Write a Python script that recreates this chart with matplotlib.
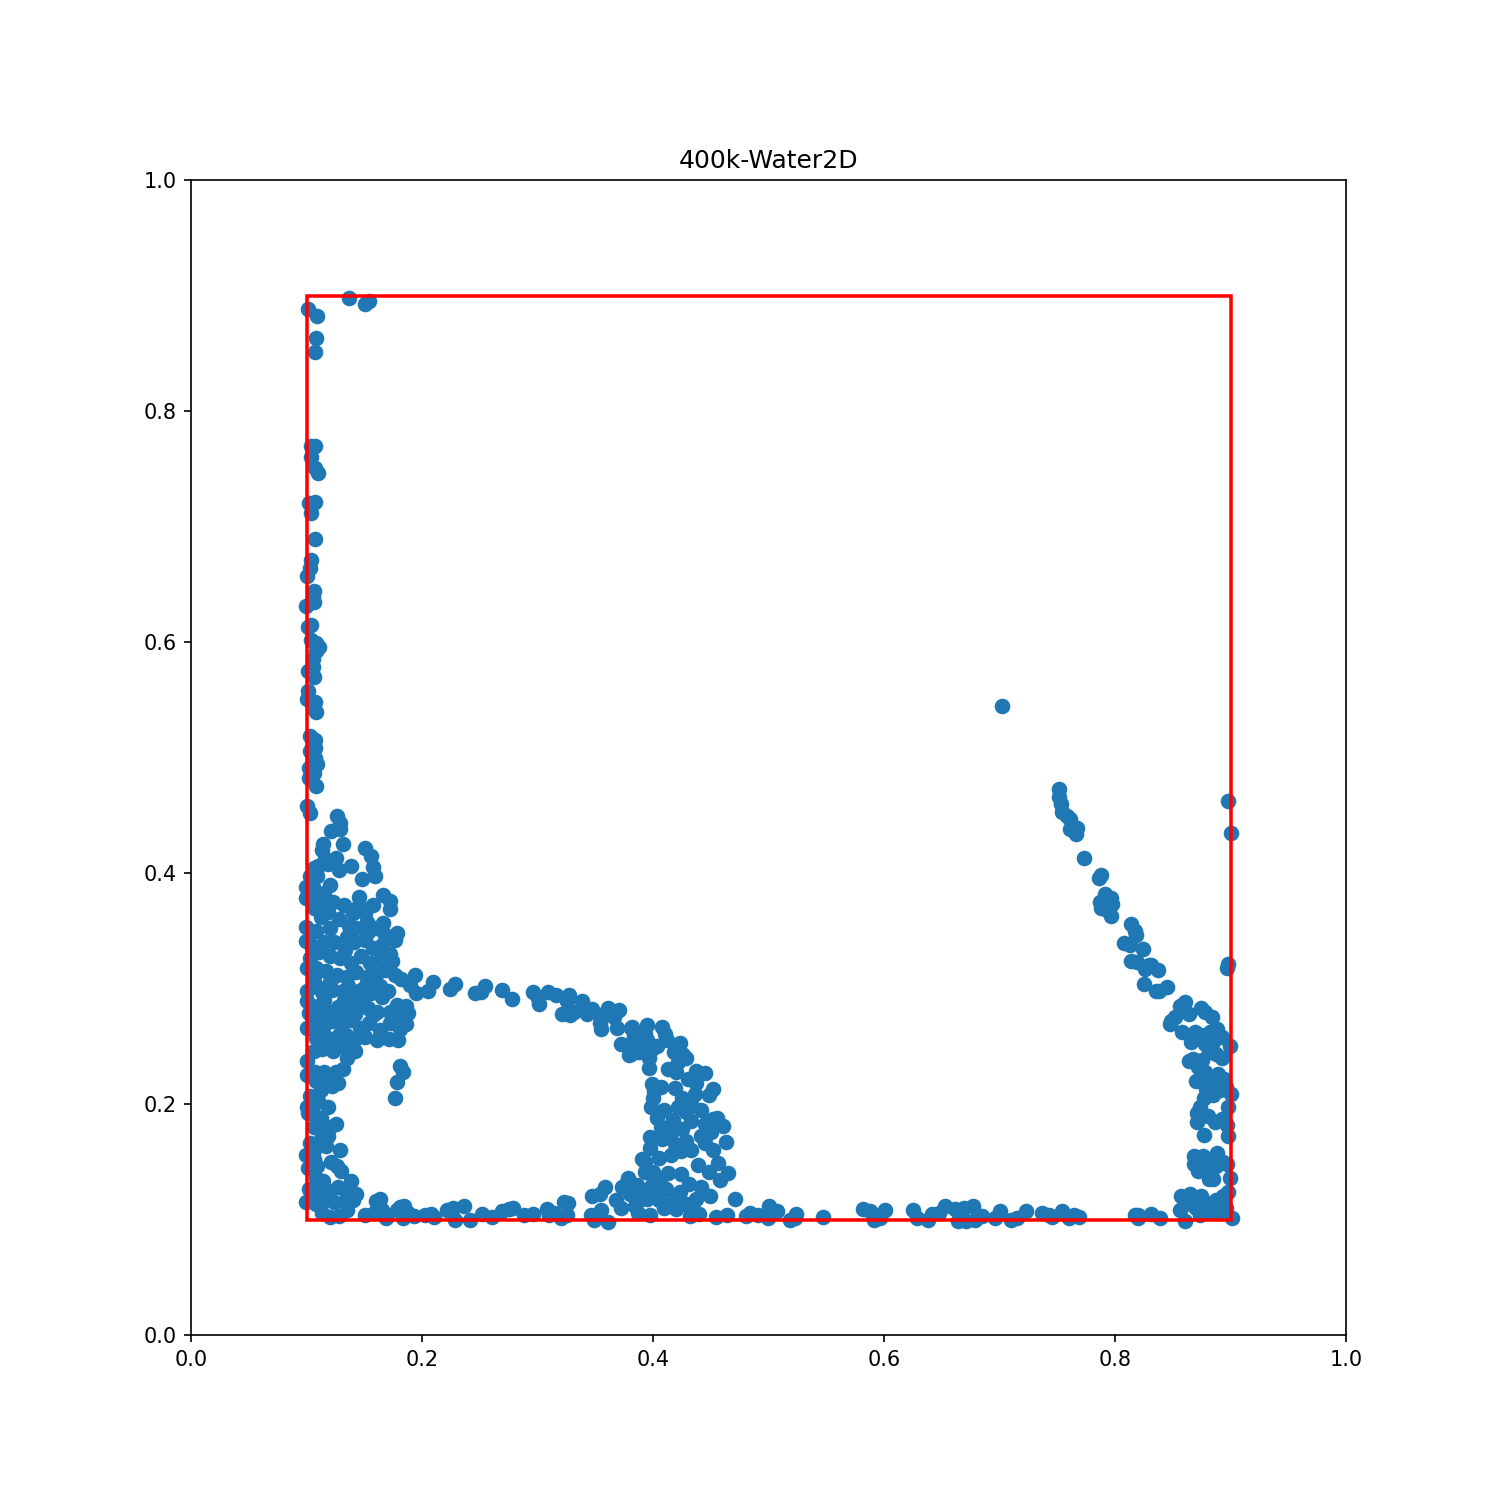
import matplotlib
matplotlib.use("Agg")
import matplotlib.pyplot as plt
from matplotlib.patches import Rectangle

# particle positions, grouped by region

top_left = [(0.137, 0.898), (0.150, 0.893), (0.154, 0.895), (0.101, 0.888), (0.109, 0.882), (0.108, 0.863), (0.107, 0.851),
            (0.104, 0.770), (0.107, 0.770), (0.104, 0.760), (0.107, 0.751), (0.110, 0.746), (0.102, 0.720), (0.107, 0.721),
            (0.104, 0.712), (0.107, 0.689), (0.104, 0.671), (0.103, 0.664), (0.100, 0.657), (0.106, 0.644), (0.105, 0.640),
            (0.106, 0.635), (0.099, 0.631), (0.101, 0.613), (0.104, 0.615), (0.104, 0.602), (0.108, 0.599), (0.111, 0.596),
            (0.108, 0.592), (0.105, 0.585), (0.105, 0.578), (0.101, 0.575), (0.106, 0.570), (0.101, 0.558), (0.100, 0.551),
            (0.107, 0.548), (0.105, 0.543), (0.108, 0.539), (0.103, 0.519), (0.107, 0.515), (0.107, 0.508), (0.103, 0.506),
            (0.107, 0.500), (0.109, 0.494), (0.102, 0.491), (0.106, 0.487), (0.102, 0.482), (0.108, 0.475), (0.100, 0.458),
            (0.103, 0.452)]

left_cluster = [(0.126, 0.449), (0.129, 0.443), (0.129, 0.438), (0.121, 0.436), (0.131, 0.425), (0.114, 0.425), (0.113, 0.420),
                (0.150, 0.422), (0.156, 0.415), (0.157, 0.405), (0.159, 0.397), (0.148, 0.395), (0.138, 0.406), (0.128, 0.403),
                (0.125, 0.413), (0.118, 0.408), (0.110, 0.406), (0.106, 0.404), (0.103, 0.397), (0.120, 0.390), (0.099, 0.388),
                (0.099, 0.378), (0.109, 0.379), (0.166, 0.381), (0.172, 0.376), (0.172, 0.369), (0.145, 0.379), (0.123, 0.375),
                (0.132, 0.372), (0.157, 0.372), (0.150, 0.365), (0.145, 0.372), (0.099, 0.353), (0.099, 0.341), (0.178, 0.348),
                (0.176, 0.342), (0.166, 0.357), (0.160, 0.352), (0.152, 0.358), (0.143, 0.352), (0.135, 0.345), (0.128, 0.360),
                (0.120, 0.352), (0.112, 0.362), (0.106, 0.370), (0.108, 0.350), (0.115, 0.340), (0.124, 0.340), (0.133, 0.333),
                (0.141, 0.340), (0.150, 0.342), (0.157, 0.335), (0.165, 0.338), (0.172, 0.330), (0.163, 0.325), (0.155, 0.322),
                (0.147, 0.328), (0.138, 0.322), (0.129, 0.326), (0.120, 0.328), (0.111, 0.332), (0.104, 0.338), (0.103, 0.326),
                (0.100, 0.318), (0.108, 0.318), (0.117, 0.315), (0.126, 0.312), (0.135, 0.310), (0.143, 0.314), (0.152, 0.310),
                (0.160, 0.312), (0.168, 0.316), (0.176, 0.312), (0.182, 0.308), (0.189, 0.303), (0.100, 0.298), (0.107, 0.304),
                (0.113, 0.297), (0.122, 0.299), (0.131, 0.298), (0.139, 0.295), (0.147, 0.299), (0.156, 0.296), (0.165, 0.293),
                (0.100, 0.289), (0.102, 0.279), (0.110, 0.285), (0.118, 0.280), (0.127, 0.284), (0.136, 0.282), (0.144, 0.286),
                (0.153, 0.283), (0.161, 0.280), (0.178, 0.286), (0.186, 0.285), (0.188, 0.279), (0.180, 0.276), (0.172, 0.280),
                (0.100, 0.266), (0.106, 0.270), (0.114, 0.267), (0.122, 0.272), (0.130, 0.268), (0.138, 0.273), (0.146, 0.266),
                (0.154, 0.270), (0.163, 0.264), (0.172, 0.270), (0.181, 0.265), (0.186, 0.269), (0.108, 0.257), (0.117, 0.258),
                (0.125, 0.254), (0.134, 0.260), (0.142, 0.256), (0.150, 0.258), (0.161, 0.255), (0.171, 0.256), (0.179, 0.255),
                (0.106, 0.246), (0.113, 0.248), (0.123, 0.246), (0.131, 0.250), (0.135, 0.240), (0.142, 0.246), (0.181, 0.233),
                (0.183, 0.228), (0.178, 0.219), (0.176, 0.205),
                (0.116, 0.412), (0.109, 0.397), (0.115, 0.383), (0.105, 0.388), (0.112, 0.372), (0.118, 0.366), (0.137, 0.354),
                (0.140, 0.365), (0.153, 0.349), (0.106, 0.311), (0.120, 0.306), (0.136, 0.302), (0.151, 0.303), (0.163, 0.302),
                (0.115, 0.290), (0.132, 0.290), (0.149, 0.291), (0.105, 0.277), (0.113, 0.275), (0.128, 0.276), (0.142, 0.278),
                (0.157, 0.277), (0.110, 0.262), (0.128, 0.260), (0.139, 0.250), (0.115, 0.254), (0.168, 0.346), (0.170, 0.298),
                (0.174, 0.324)]

arc = [(0.194, 0.312), (0.209, 0.306), (0.195, 0.296), (0.205, 0.298), (0.224, 0.300), (0.228, 0.304), (0.246, 0.296),
       (0.251, 0.297), (0.254, 0.302), (0.269, 0.299), (0.278, 0.291), (0.296, 0.297), (0.300, 0.292), (0.301, 0.287),
       (0.309, 0.297), (0.316, 0.294), (0.321, 0.278), (0.328, 0.277), (0.327, 0.294), (0.325, 0.289), (0.331, 0.280),
       (0.338, 0.289), (0.341, 0.283), (0.343, 0.278), (0.347, 0.282), (0.354, 0.277), (0.354, 0.270), (0.355, 0.265),
       (0.361, 0.283), (0.366, 0.275), (0.370, 0.281), (0.369, 0.266), (0.372, 0.252), (0.380, 0.252), (0.381, 0.243),
       (0.381, 0.266), (0.383, 0.259), (0.388, 0.245), (0.390, 0.254), (0.393, 0.261), (0.395, 0.255), (0.396, 0.240),
       (0.398, 0.247), (0.412, 0.255), (0.418, 0.245), (0.425, 0.243), (0.428, 0.240), (0.420, 0.228)]

left_wall = [(0.100, 0.237), (0.100, 0.225), (0.107, 0.228), (0.108, 0.220), (0.116, 0.220), (0.125, 0.228), (0.131, 0.230),
             (0.127, 0.218), (0.122, 0.216), (0.112, 0.212), (0.103, 0.207), (0.110, 0.203), (0.118, 0.197), (0.100, 0.197),
             (0.101, 0.192), (0.107, 0.190), (0.106, 0.180), (0.112, 0.178), (0.120, 0.180), (0.125, 0.183), (0.112, 0.170),
             (0.103, 0.166), (0.106, 0.160), (0.117, 0.164), (0.129, 0.160), (0.099, 0.156), (0.106, 0.152), (0.121, 0.150),
             (0.126, 0.146), (0.130, 0.142), (0.101, 0.145), (0.108, 0.136), (0.114, 0.133), (0.138, 0.133), (0.102, 0.126),
             (0.109, 0.124), (0.118, 0.125), (0.127, 0.128), (0.135, 0.122), (0.143, 0.122), (0.099, 0.115), (0.108, 0.113),
             (0.116, 0.117), (0.124, 0.115), (0.133, 0.116), (0.140, 0.117), (0.113, 0.106), (0.120, 0.102), (0.128, 0.103),
             (0.135, 0.108), (0.115, 0.228), (0.105, 0.198), (0.112, 0.188), (0.118, 0.172), (0.109, 0.146), (0.112, 0.120)]

bottom = [(0.150, 0.104), (0.158, 0.106), (0.160, 0.116), (0.163, 0.118), (0.165, 0.108), (0.169, 0.101), (0.178, 0.108),
          (0.181, 0.111), (0.184, 0.112), (0.183, 0.101), (0.188, 0.106), (0.193, 0.103), (0.202, 0.104), (0.208, 0.105),
          (0.210, 0.102), (0.221, 0.108), (0.227, 0.110), (0.228, 0.100), (0.236, 0.112), (0.241, 0.100), (0.252, 0.105),
          (0.260, 0.102), (0.269, 0.107), (0.275, 0.109), (0.279, 0.110), (0.288, 0.104), (0.296, 0.105), (0.308, 0.109),
          (0.310, 0.104), (0.314, 0.106), (0.320, 0.101), (0.323, 0.115), (0.326, 0.114), (0.325, 0.104), (0.346, 0.104),
          (0.347, 0.120), (0.349, 0.100), (0.354, 0.122), (0.355, 0.108), (0.358, 0.128), (0.361, 0.098), (0.368, 0.117),
          (0.372, 0.110), (0.373, 0.128), (0.376, 0.131), (0.378, 0.136), (0.380, 0.122), (0.384, 0.112), (0.387, 0.106),
          (0.393, 0.150), (0.395, 0.118), (0.397, 0.104), (0.399, 0.130), (0.403, 0.126), (0.409, 0.110), (0.415, 0.112),
          (0.420, 0.109), (0.432, 0.103), (0.440, 0.105), (0.454, 0.102), (0.464, 0.104), (0.471, 0.118), (0.480, 0.103),
          (0.484, 0.106), (0.491, 0.104), (0.499, 0.101), (0.500, 0.112), (0.507, 0.107), (0.518, 0.100), (0.523, 0.101),
          (0.524, 0.105), (0.547, 0.102), (0.582, 0.109), (0.588, 0.107), (0.591, 0.100), (0.593, 0.104), (0.596, 0.101),
          (0.601, 0.108), (0.625, 0.108), (0.628, 0.101), (0.638, 0.100), (0.641, 0.105), (0.647, 0.106), (0.653, 0.112),
          (0.661, 0.109), (0.664, 0.099), (0.669, 0.110), (0.671, 0.099), (0.677, 0.112), (0.679, 0.100), (0.685, 0.103),
          (0.696, 0.101), (0.700, 0.107), (0.710, 0.100), (0.715, 0.101), (0.723, 0.107), (0.737, 0.106), (0.743, 0.104),
          (0.745, 0.102), (0.754, 0.107), (0.760, 0.101), (0.764, 0.104), (0.769, 0.102), (0.817, 0.104), (0.820, 0.101),
          (0.820, 0.104), (0.831, 0.105), (0.839, 0.101)]

hump = [(0.382, 0.267), (0.395, 0.268), (0.408, 0.267), (0.410, 0.261), (0.403, 0.250), (0.423, 0.253), (0.426, 0.242),
        (0.437, 0.229), (0.445, 0.227), (0.452, 0.213), (0.396, 0.231), (0.379, 0.242), (0.413, 0.230), (0.399, 0.217),
        (0.398, 0.197), (0.409, 0.195), (0.397, 0.171), (0.397, 0.162), (0.390, 0.152), (0.463, 0.167), (0.460, 0.181),
        (0.455, 0.188), (0.465, 0.140), (0.458, 0.134), (0.448, 0.141), (0.439, 0.147), (0.456, 0.149), (0.421, 0.236),
        (0.430, 0.222), (0.437, 0.218), (0.448, 0.208), (0.400, 0.205), (0.401, 0.211), (0.407, 0.215), (0.419, 0.214),
        (0.425, 0.205), (0.433, 0.200), (0.441, 0.195), (0.428, 0.193), (0.417, 0.186), (0.407, 0.180), (0.403, 0.188),
        (0.415, 0.175), (0.425, 0.178), (0.433, 0.185), (0.445, 0.183), (0.452, 0.187), (0.450, 0.176), (0.441, 0.172),
        (0.428, 0.168), (0.419, 0.165), (0.408, 0.170), (0.405, 0.153), (0.415, 0.156), (0.433, 0.160), (0.452, 0.160),
        (0.445, 0.166), (0.400, 0.141), (0.406, 0.135), (0.413, 0.140), (0.424, 0.139), (0.431, 0.131), (0.441, 0.128),
        (0.449, 0.120), (0.437, 0.118), (0.423, 0.124), (0.411, 0.126), (0.428, 0.113), (0.435, 0.107), (0.393, 0.141),
        (0.436, 0.209), (0.421, 0.197), (0.424, 0.159), (0.396, 0.126), (0.389, 0.118), (0.405, 0.117), (0.418, 0.118),
        (0.386, 0.130)]

right_slope = [(0.702, 0.545), (0.751, 0.473), (0.751, 0.466), (0.753, 0.460), (0.754, 0.453), (0.758, 0.449), (0.761, 0.447),
               (0.761, 0.438), (0.766, 0.434), (0.767, 0.439), (0.773, 0.413), (0.786, 0.396), (0.788, 0.398), (0.787, 0.375),
               (0.788, 0.370), (0.791, 0.382), (0.793, 0.368), (0.796, 0.378), (0.797, 0.373), (0.796, 0.363), (0.808, 0.339),
               (0.813, 0.338), (0.814, 0.356), (0.817, 0.350), (0.818, 0.346), (0.814, 0.324), (0.819, 0.323), (0.824, 0.334),
               (0.825, 0.304), (0.826, 0.317), (0.829, 0.320), (0.831, 0.320), (0.835, 0.298), (0.837, 0.316), (0.838, 0.298),
               (0.845, 0.301), (0.898, 0.462), (0.900, 0.435), (0.898, 0.321), (0.897, 0.318)]

right_corner = [(0.847, 0.269), (0.848, 0.272), (0.852, 0.275), (0.856, 0.285), (0.860, 0.288), (0.858, 0.262), (0.864, 0.278),
                (0.866, 0.254), (0.869, 0.262), (0.864, 0.237), (0.867, 0.239), (0.874, 0.283), (0.878, 0.280), (0.884, 0.275),
                (0.874, 0.260), (0.882, 0.262), (0.888, 0.265), (0.892, 0.258), (0.899, 0.250), (0.870, 0.220), (0.872, 0.232),
                (0.878, 0.228), (0.881, 0.245), (0.887, 0.243), (0.892, 0.240), (0.883, 0.222), (0.889, 0.226), (0.894, 0.222),
                (0.879, 0.213), (0.885, 0.208), (0.891, 0.212), (0.896, 0.215), (0.900, 0.209), (0.871, 0.192), (0.873, 0.197),
                (0.871, 0.184), (0.877, 0.173), (0.880, 0.190), (0.886, 0.184), (0.892, 0.187), (0.898, 0.197), (0.897, 0.182),
                (0.898, 0.172), (0.868, 0.155), (0.868, 0.148), (0.872, 0.142), (0.876, 0.155), (0.883, 0.152), (0.888, 0.158),
                (0.893, 0.150), (0.897, 0.148), (0.881, 0.135), (0.885, 0.135), (0.899, 0.136), (0.856, 0.108), (0.857, 0.120),
                (0.860, 0.115), (0.860, 0.099), (0.865, 0.122), (0.868, 0.112), (0.873, 0.104), (0.874, 0.120), (0.880, 0.106),
                (0.887, 0.117), (0.889, 0.106), (0.893, 0.120), (0.896, 0.110), (0.898, 0.124), (0.901, 0.101),
                (0.878, 0.252), (0.885, 0.254), (0.875, 0.238), (0.877, 0.205), (0.880, 0.147), (0.887, 0.146), (0.870, 0.110),
                (0.878, 0.115), (0.868, 0.119)]

points = top_left + left_cluster + arc + left_wall + bottom + hump + right_slope + right_corner
x = [p[0] for p in points]
y = [p[1] for p in points]

fig, ax = plt.subplots(figsize=(10, 10))
ax.scatter(x, y, s=42)
ax.add_patch(Rectangle((0.1, 0.1), 0.8, 0.8, fill=False, edgecolor='red', linewidth=1.7, zorder=3))
ax.set_xlim(0, 1)
ax.set_ylim(0, 1)
ax.set_aspect('equal')
ax.set_title('400k-Water2D')

plt.savefig('out.png', dpi=150)
